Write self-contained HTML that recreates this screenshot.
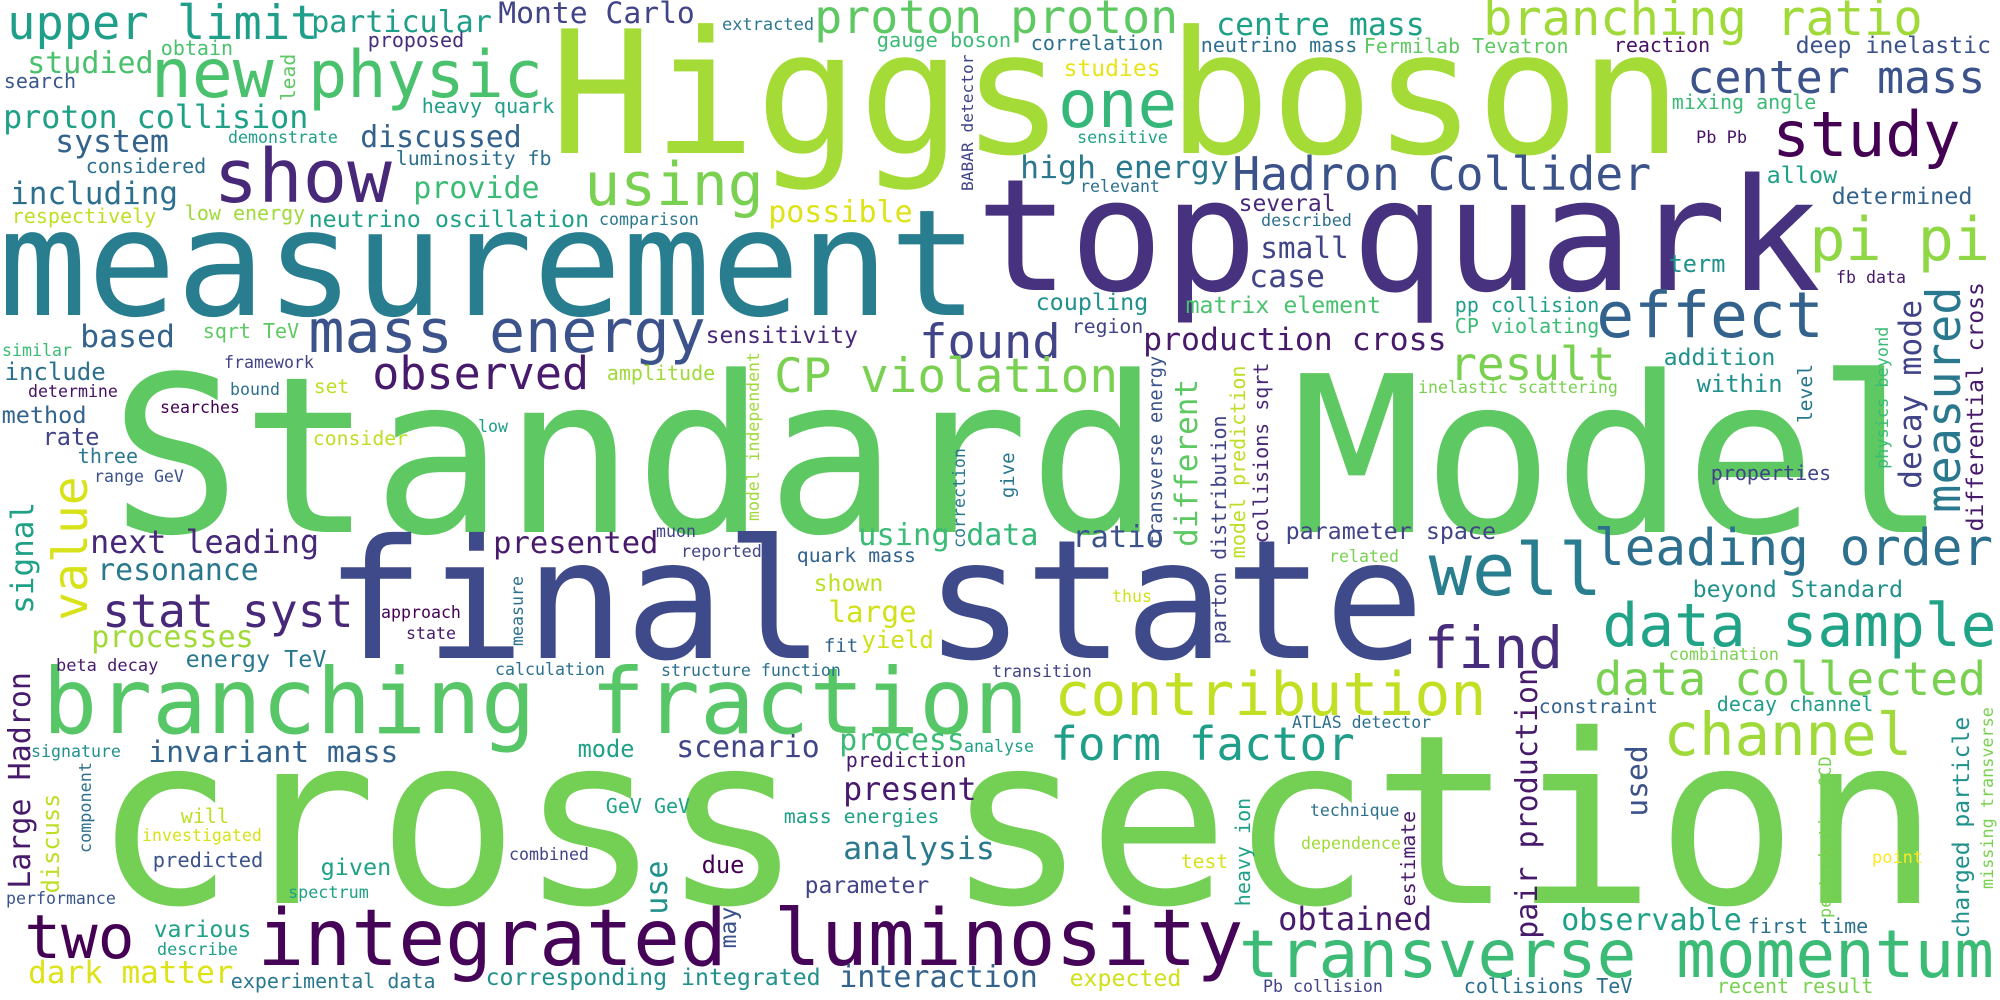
<!DOCTYPE html>
<html>
<head>
<meta charset="utf-8">
<style>
html,body{margin:0;padding:0;background:#fff;}
#cloud{display:block;width:2000px;height:1000px;}
text{font-family:"DejaVu Sans Mono","Liberation Mono",monospace;}
</style>
</head>
<body>
<svg id="cloud" xmlns="http://www.w3.org/2000/svg" width="2000" height="1000" viewBox="0 0 2000 1000">
<rect width="2000" height="1000" fill="#ffffff"/>
</svg>
<script>
// word, ink-left x (or baseline x for vertical), baseline y (or bottom y for vertical), font size, colour, vertical
const words = [
["Higgs boson",560,153,171,"#a5db36",0],
["top quark",985,290,156,"#46327e",0],
["measurement",7,315,148,"#287d8e",0],
["Standard Model",123,532,218,"#5ec962",0],
["final state",335,658,166,"#3e4a89",0],
["branching fraction",48,733,91,"#56c667",0],
["cross section",107,903,236,"#74d055",0],
["integrated luminosity",262,965,78,"#450457",0],
["transverse momentum",1243,977,66,"#3bbb75",0],
["upper limit",10,39,47,"#1f9e89",0],
["particular",313,32,30,"#1f9e89",0],
["Monte Carlo",500,23,29.7,"#414487",0],
["extracted",723,30,17,"#2a788e",0],
["proton proton",817,33,46.5,"#5ec962",0],
["centre mass",1218,35,31.5,"#1fa187",0],
["branching ratio",1486,35,48.7,"#a0da39",0],
["studied",29,73,30,"#4ac16d",0],
["obtain",162,55,20,"#4ac16d",0],
["proposed",369,47,20,"#472d7b",0],
["search",5,88,20,"#39568c",0],
["new",155,97,68,"#4ac16d",0],
["physic",312,97,65,"#4ac16d",0],
["lead",295,100,19.7,"#5ec962",1],
["heavy quark",423,113,20,"#1f9e89",0],
["gauge boson",878,47,20.3,"#3bbb75",0],
["BABAR detector",973,190,16.2,"#414487",1],
["correlation",1032,50,20,"#2d708e",0],
["neutrino mass",1202,52,20,"#2d708e",0],
["Fermilab Tevatron",1365,53,20,"#5ec962",0],
["reaction",1615,52,20,"#471365",0],
["deep inelastic",1797,53,23.2,"#3b528b",0],
["center mass",1690,93,45,"#3b528b",0],
["mixing angle",1673,109,20,"#3bbb75",0],
["study",1776,156,62.6,"#440154",0],
["Pb Pb",1697,143,17,"#471365",0],
["studies",1065,76,23,"#e7e419",0],
["one",1062,127,66,"#35b779",0],
["sensitive",1078,143,16.8,"#1fa187",0],
["proton collision",5,128,31.7,"#1fa187",0],
["discussed",362,147,29.8,"#33638d",0],
["system",57,152,31.5,"#33638d",0],
["demonstrate",229,143,16.6,"#1f9e89",0],
["luminosity fb",397,165,19.9,"#2d708e",0],
["considered",87,173,20,"#2d708e",0],
["show",218,202,74,"#482878",0],
["including",12,204,31,"#2d708e",0],
["provide",415,198,30,"#3bbb75",0],
["respectively",13,223,20,"#bddf26",0],
["low energy",186,220,20,"#a0da39",0],
["neutrino oscillation",310,227,23.3,"#1fa187",0],
["comparison",600,225,16.6,"#2a788e",0],
["using",588,205,59.5,"#7ad151",0],
["possible",770,222,30,"#dde318",0],
["high energy",1022,178,31.5,"#2a788e",0],
["relevant",1081,192,16.6,"#2d708e",0],
["Hadron Collider",1235,190,46.4,"#3b528b",0],
["allow",1768,183,23.5,"#1fa187",0],
["determined",1833,204,23.4,"#33638d",0],
["several",1240,211,23,"#482878",0],
["described",1262,226,16.8,"#2d708e",0],
["small",1262,258,29.4,"#414487",0],
["pi pi",1813,260,60,"#8fd744",0],
["term",1670,272,23.6,"#21918c",0],
["fb data",1837,283,16.6,"#481a6c",0],
["case",1251,287,31.5,"#414487",0],
["coupling",1037,310,23.4,"#21918c",0],
["matrix element",1187,313,23.2,"#4ac16d",0],
["pp collision",1456,312,20,"#1f9e89",0],
["CP violating",1456,333,20,"#3bbb75",0],
["region",1073,333,19.8,"#414487",0],
["effect",1600,337,63,"#33638d",0],
["production cross",1145,350,31.5,"#481a6c",0],
["mass energy",312,352,60,"#3b528b",0],
["based",82,347,31.5,"#33638d",0],
["sqrt TeV",204,338,20,"#5ec962",0],
["similar",3,356,16.6,"#3bbb75",0],
["sensitivity",707,343,23,"#482878",0],
["found",922,358,47,"#414487",0],
["observed",375,389,45,"#481a6c",0],
["amplitude",608,380,20,"#a0da39",0],
["CP violation",777,392,47.6,"#7ad151",0],
["result",1452,380,46,"#7ad151",0],
["inelastic scattering",1419,393,16.6,"#7ad151",0],
["addition",1665,365,23.2,"#21918c",0],
["within",1698,392,23.8,"#21918c",0],
["properties",1712,480,20,"#414487",0],
["framework",225,368,16.6,"#414487",0],
["include",6,380,24,"#2d708e",0],
["determine",29,397,16.6,"#471365",0],
["bound",231,395,16.6,"#2d708e",0],
["set",315,393,19.6,"#bddf26",0],
["searches",161,413,16.6,"#440154",0],
["method",3,423,23.5,"#33638d",0],
["rate",44,445,23.6,"#414487",0],
["consider",314,445,19.8,"#bddf26",0],
["low",479,432,16.6,"#1f9e89",0],
["three",79,463,20,"#2a788e",0],
["range GeV",95,482,16.6,"#3b528b",0],
["decay mode",1921,487,31.4,"#414487",1],
["measured",1960,510,47,"#2a788e",1],
["differential cross",1983,530,23,"#481a6c",1],
["physics beyond",1888,468,16.9,"#3bbb75",1],
["level",1812,422,19.7,"#2a788e",1],
["model independent",759,520,16.5,"#a0da39",1],
["correction",965,547,16.6,"#2a788e",1],
["give",1014,497,19,"#2a788e",1],
["transverse energy",1162,545,18.6,"#3b528b",1],
["different",1197,545,31,"#5ec962",1],
["parton distribution",1226,643,20,"#414487",1],
["model prediction",1245,557,20,"#bddf26",1],
["collisions sqrt",1268,542,20,"#482878",1],
["signal",33,612,31,"#1fa187",1],
["value",87,618,48,"#d8e219",1],
["next leading",92,553,31.7,"#482878",0],
["resonance",99,580,29.8,"#2a788e",0],
["stat syst",105,627,46.4,"#482878",0],
["processes",93,647,30,"#a0da39",0],
["energy TeV",187,667,23.4,"#2a788e",0],
["beta decay",57,671,17,"#481a6c",0],
["approach",382,618,16.6,"#440154",0],
["state",407,639,16.6,"#481a6c",0],
["invariant mass",150,762,29.7,"#33638d",0],
["signature",32,757,16.6,"#21918c",0],
["Large Hadron",30,887,30,"#481a6c",1],
["component",91,852,16.8,"#2d708e",1],
["discuss",59,892,23.7,"#bddf26",1],
["will",182,823,20,"#bddf26",0],
["investigated",143,841,16.6,"#d8e219",0],
["predicted",154,867,20.4,"#3b528b",0],
["given",322,875,23.5,"#1fa187",0],
["spectrum",289,898,16.8,"#1fa187",0],
["performance",7,904,16.6,"#39568c",0],
["two",28,958,61,"#440154",0],
["various",155,937,23.2,"#1fa187",0],
["describe",158,955,16.8,"#1f9e89",0],
["dark matter",30,983,31,"#dde318",0],
["experimental data",232,988,20,"#2a788e",0],
["corresponding integrated",487,985,23.2,"#21918c",0],
["presented",495,553,30.5,"#481a6c",0],
["muon",657,537,16.6,"#414487",0],
["reported",682,557,16.8,"#414487",0],
["using",860,545,30.4,"#3bbb75",0],
["data",968,545,30,"#35b779",0],
["quark mass",798,562,19.8,"#33638d",0],
["shown",815,591,23.2,"#bddf26",0],
["large",830,622,29.4,"#d0e11c",0],
["fit",825,652,19,"#33638d",0],
["yield",863,648,24,"#d0e11c",0],
["measure",523,645,16.6,"#2d708e",1],
["calculation",496,675,16.6,"#2d708e",0],
["structure function",662,676,16.6,"#2d708e",0],
["transition",993,677,16.6,"#414487",0],
["mode",579,757,23.6,"#1fa187",0],
["scenario",678,757,29.8,"#414487",0],
["process",841,750,29.8,"#3bbb75",0],
["analyse",965,752,16.6,"#1fa187",0],
["prediction",847,767,20,"#481a6c",0],
["present",845,800,31.7,"#481a6c",0],
["GeV GeV",607,813,20,"#1fa187",0],
["mass energies",785,823,19.9,"#1fa187",0],
["analysis",845,859,31.5,"#2a788e",0],
["combined",510,860,16.6,"#414487",0],
["due",703,873,23.7,"#440154",0],
["use",667,913,30,"#21918c",1],
["may",736,947,23,"#3b528b",1],
["parameter",806,893,23,"#414487",0],
["interaction",841,987,30,"#33638d",0],
["ratio",1074,547,30.5,"#3b528b",0],
["parameter space",1287,539,23.3,"#414487",0],
["well",1433,595,72,"#287d8e",0],
["related",1330,562,16.6,"#7ad151",0],
["thus",1113,602,16.6,"#d0e11c",0],
["find",1427,668,58,"#472d7b",0],
["contribution",1058,715,59.8,"#c2df23",0],
["ATLAS detector",1293,728,16.5,"#2d708e",0],
["form factor",1053,760,46,"#1f9e89",0],
["technique",1311,816,16.5,"#2d708e",0],
["heavy ion",1250,905,20,"#1fa187",1],
["dependence",1302,849,16.6,"#a0da39",0],
["estimate",1415,905,19.8,"#481a6c",1],
["test",1182,868,19.7,"#d8e219",0],
["obtained",1280,930,32,"#481a6c",0],
["expected",1071,986,23.2,"#d0e11c",0],
["Pb collision",1264,992,16.6,"#414487",0],
["collisions TeV",1465,993,20,"#2d708e",0],
["leading order",1597,565,51,"#2d708e",0],
["beyond Standard",1694,597,23.3,"#21918c",0],
["data sample",1606,646,59.5,"#20a386",0],
["combination",1670,660,16.6,"#7ad151",0],
["data collected",1597,695,46.5,"#7ad151",0],
["constraint",1540,713,19.8,"#33638d",0],
["decay channel",1718,711,20,"#1f9e89",0],
["channel",1667,755,59,"#9fda3a",0],
["pair production",1537,937,30,"#481a6c",1],
["used",1647,815,29.7,"#3b528b",1],
["perturbative QCD",1831,917,16.8,"#7ad151",1],
["charged particle",1969,937,23,"#21918c",1],
["missing transverse",1993,888,16.8,"#7ad151",1],
["point",1873,863,17,"#fde725",0],
["observable",1563,930,30,"#1fa187",0],
["first time",1749,933,20,"#2d708e",0],
["recent result",1718,993,20,"#7ad151",0]
];

const svg = document.getElementById('cloud');
const NS = 'http://www.w3.org/2000/svg';
words.forEach(function (w) {
  const t = document.createElementNS(NS, 'text');
  const fs = w[3];
  const pad = 0.06 * fs;
  t.setAttribute('font-size', fs);
  t.setAttribute('fill', w[4]);
  if (w[5]) {
    const bx = w[1], by = w[2] + pad;
    t.setAttribute('x', bx);
    t.setAttribute('y', by);
    t.setAttribute('transform', 'rotate(-90 ' + bx + ' ' + by + ')');
  } else {
    t.setAttribute('x', w[1] - pad);
    t.setAttribute('y', w[2]);
  }
  t.textContent = w[0];
  
  
  svg.appendChild(t);
});
</script>
</body>
</html>
